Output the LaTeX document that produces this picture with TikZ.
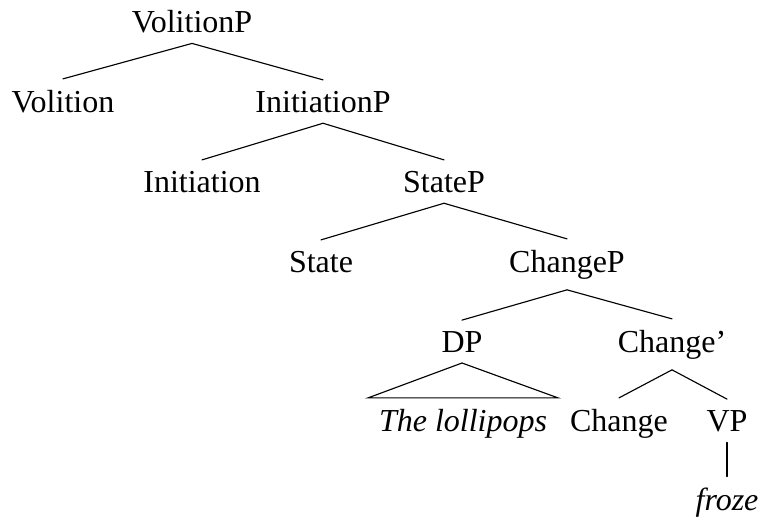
\documentclass[tikz,border=0pt]{standalone}
\usepackage{fontspec}
\setmainfont{Liberation Serif}
\begin{document}
\begin{tikzpicture}[x=0.75pt,y=-0.75pt,
  every node/.style={inner sep=8pt, anchor=base, font=\fontsize{24}{28}\selectfont},
  branch/.style={line width=0.85pt, line cap=round}]
\useasboundingbox (0,0) rectangle (762,521);

% labels, placed by their baselines
\node (volP)  at (192,32)  {VolitionP};
\node (vol)   at (63,112)  {Volition};
\node (iniP)  at (323,112) {InitiationP};
\node (ini)   at (202,192) {Initiation};
\node (stP)   at (444,192) {StateP};
\node (st)    at (321,272) {State};
\node (chP)   at (567,272) {ChangeP};
\node (dp)    at (462,352) {DP};
\node (chbar) at (672,352) {Change'};
\node (lolli) at (463,431) {\itshape The lollipops};
\node (ch)    at (619,431) {Change};
\node (vP)    at (727,431) {VP};
\node (froze) at (727,510) {\itshape froze};

% branches
\draw[branch] (volP.south) -- (vol.north);
\draw[branch] (volP.south) -- (iniP.north);
\draw[branch] (iniP.south) -- (ini.north);
\draw[branch] (iniP.south) -- (stP.north);
\draw[branch] (stP.south) -- (st.north);
\draw[branch] (stP.south) -- (chP.north);
\draw[branch] (chP.south) -- (dp.north);
\draw[branch] (chP.south) -- (chbar.north);
\draw[branch] (dp.south) -- (lolli.north west) -- (lolli.north east) -- cycle;
\draw[branch] (chbar.south) -- (ch.north);
\draw[branch] (chbar.south) -- (vP.north);
\draw[branch] (vP.south) -- (froze.north);
\end{tikzpicture}
\end{document}
